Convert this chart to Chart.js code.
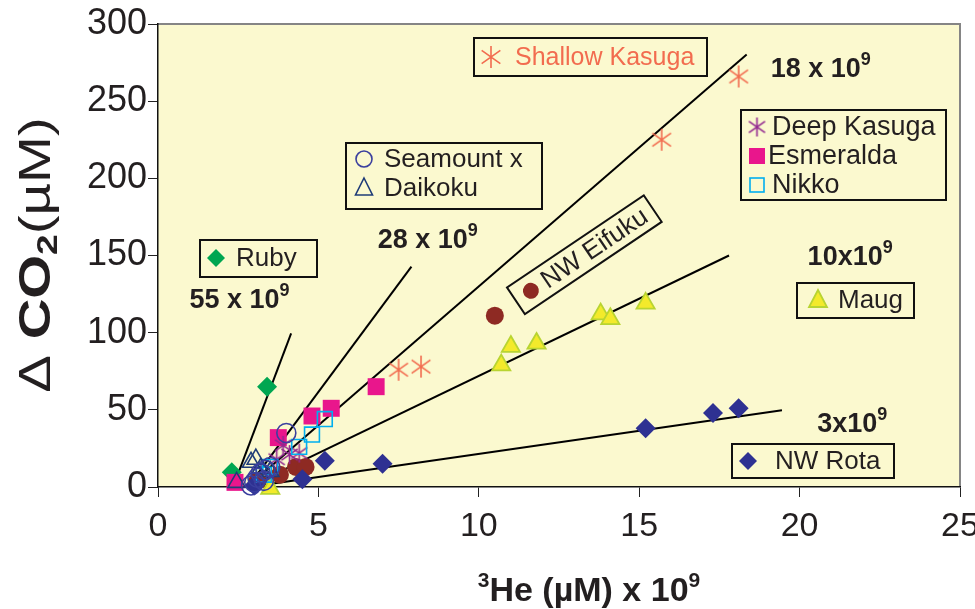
<!DOCTYPE html>
<html>
<head>
<meta charset="utf-8">
<script src="https://cdn.jsdelivr.net/npm/chart.js@4.4.1/dist/chart.umd.min.js"></script>
<style>
  html, body { margin: 0; padding: 0; background: #ffffff; }
  canvas { display: block; }
</style>
</head>
<body>
<canvas id="chart" width="975" height="609"></canvas>
<script>
// Vent fluid samples: [3He (µM x 1e9), ΔCO2 (µM)]
const shallowKasuga = [[7.5, 76], [8.2, 78], [15.7, 225], [18.1, 266]];
const deepKasuga    = [[3.7, 18], [3.9, 27], [4.1, 21], [4.4, 22]];
const esmeralda     = [[2.4, 3], [3.75, 32], [4.8, 46], [5.4, 51], [6.8, 65]];
const nikko         = [[3.3, 8], [3.5, 13], [4.4, 26], [4.8, 34], [5.2, 44]];
const seamountX     = [[2.9, 1], [3.0, 3], [3.1, 6], [3.3, 4], [3.2, 9], [3.35, 11], [3.5, 13], [4.0, 35]];
const daikoku       = [[2.45, 3], [2.9, 16], [3.05, 18], [3.2, 12], [3.5, 10]];
const ruby          = [[2.3, 9.5], [3.4, 65]];
const nwEifuku      = [[3.1, 4], [3.8, 8], [4.3, 13], [4.6, 13], [10.5, 111]];
const maug          = [[3.5, -1], [10.7, 79], [11.0, 91], [11.8, 93], [13.8, 112], [14.1, 109], [15.2, 119]];
const nwRota        = [[3.0, 1], [4.5, 5], [5.2, 17], [7.0, 15], [15.2, 38], [17.3, 48], [18.1, 51]];

// CO2/3He trend lines: slope (x 1e9), x-intercept, and x extent of each drawn line
const fitSlopes     = [55, 28, 18, 10, 3];
const fitIntercepts = [2.34, 2.8, 2.78, 2.8, 2.85];
const fitRanges     = [[2.45, 4.15], [3.0, 7.9], [3.2, 18.35], [3.2, 17.8], [3.0, 19.45]];
const fitLabels     = ['55 x 10', '28 x 10', '18 x 10', '10x10', '3x10'];

// Axis ticks
const xTicks = [0, 5, 10, 15, 20, 25];
const yTicks = [0, 50, 100, 150, 200, 250, 300];

const FONT = "'Liberation Sans', Arial, Helvetica, sans-serif";
const INK = '#231F20';
const PLOT_BG = '#FBF9CF';

const COLORS = {
  shallow: '#F26C4F', deep: '#92278F', esmeralda: '#E9168C', nikko: '#00AEEF',
  seamount: '#3A3F9E', daikoku: '#1F3C78', ruby: '#00A651', eifuku: '#8E2A23',
  maugFill: '#F3EA2B', maugEdge: '#B8D432', rota: '#2E3192'
};

function asteriskCanvas(size, color, lw) {
  const s = Math.ceil(size + lw * 2);
  const c = document.createElement('canvas');
  c.width = s; c.height = s;
  const g = c.getContext('2d');
  const r = size / 2, m = s / 2;
  g.strokeStyle = color; g.lineWidth = lw;
  g.beginPath();
  g.moveTo(m, m - r); g.lineTo(m, m + r);
  g.moveTo(m - r * 0.85, m - r * 0.6); g.lineTo(m + r * 0.85, m + r * 0.6);
  g.moveTo(m - r * 0.85, m + r * 0.6); g.lineTo(m + r * 0.85, m - r * 0.6);
  g.stroke();
  return c;
}
const starShallow = asteriskCanvas(22, COLORS.shallow, 1.6);
const starDeep = asteriskCanvas(19, COLORS.deep, 1.6);

const toXY = arr => arr.map(([x, y]) => ({ x, y }));

function pointSet(label, arr, style) {
  return Object.assign({ label, data: toXY(arr), showLine: false, clip: false }, style);
}

// Listed first = drawn on top
const pointSets = [
  pointSet('Seamount x', seamountX, { pointStyle: 'circle', pointRadius: 9.5, backgroundColor: 'rgba(0,0,0,0)', borderColor: COLORS.seamount, pointBorderWidth: 1.6 }),
  pointSet('Daikoku', daikoku, { pointStyle: 'triangle', pointRadius: 10, backgroundColor: 'rgba(0,0,0,0)', borderColor: COLORS.daikoku, pointBorderWidth: 1.6 }),
  pointSet('Nikko', nikko, { pointStyle: 'rect', pointRadius: 10.5, backgroundColor: 'rgba(0,0,0,0)', borderColor: COLORS.nikko, pointBorderWidth: 1.6 }),
  pointSet('Deep Kasuga', deepKasuga, { pointStyle: starDeep }),
  pointSet('Esmeralda', esmeralda, { pointStyle: 'rect', pointRadius: 12, backgroundColor: COLORS.esmeralda, borderColor: COLORS.esmeralda, pointBorderWidth: 0 }),
  pointSet('NW Rota', nwRota, { pointStyle: 'rectRot', pointRadius: 10, backgroundColor: COLORS.rota, borderColor: COLORS.rota, pointBorderWidth: 0 }),
  pointSet('NW Eifuku', nwEifuku, { pointStyle: 'circle', pointRadius: 9, backgroundColor: COLORS.eifuku, borderColor: COLORS.eifuku, pointBorderWidth: 0 }),
  pointSet('Ruby', ruby, { pointStyle: 'rectRot', pointRadius: 10, backgroundColor: COLORS.ruby, borderColor: COLORS.ruby, pointBorderWidth: 0 }),
  pointSet('Maug', maug, { pointStyle: 'triangle', pointRadius: 10.5, backgroundColor: COLORS.maugFill, borderColor: COLORS.maugEdge, pointBorderWidth: 1.8 }),
  pointSet('Shallow Kasuga', shallowKasuga, { pointStyle: starShallow })
];

const lineSets = fitSlopes.map((m, i) => ({
  label: fitLabels[i],
  data: fitRanges[i].map(x => ({ x, y: m * (x - fitIntercepts[i]) })),
  showLine: true, pointRadius: 0, borderColor: '#000000', borderWidth: 2,
  backgroundColor: 'rgba(0,0,0,0)', tension: 0, clip: false
}));

// Draws a run of text pieces (superscripts / subscripts) from x
function drawRuns(ctx, runs, x, y, align) {
  let total = 0;
  runs.forEach(r => { ctx.font = r.font; r.w = ctx.measureText(r.t).width; total += r.w; });
  let cx = align === 'center' ? x - total / 2 : x;
  ctx.textAlign = 'left';
  ctx.textBaseline = 'alphabetic';
  runs.forEach(r => { ctx.font = r.font; ctx.fillText(r.t, cx, y + (r.dy || 0)); cx += r.w; });
}

function drawMarker(ctx, kind, x, y) {
  ctx.save();
  ctx.beginPath();
  switch (kind) {
    case 'Shallow Kasuga': ctx.drawImage(starShallow, x - starShallow.width / 2, y - starShallow.height / 2); break;
    case 'Deep Kasuga': ctx.drawImage(starDeep, x - starDeep.width / 2, y - starDeep.height / 2); break;
    case 'Esmeralda': ctx.fillStyle = COLORS.esmeralda; ctx.fillRect(x - 8, y - 8, 16, 16); break;
    case 'Nikko': ctx.strokeStyle = COLORS.nikko; ctx.lineWidth = 1.6; ctx.strokeRect(x - 7, y - 7, 14, 14); break;
    case 'Seamount x': ctx.strokeStyle = COLORS.seamount; ctx.lineWidth = 1.6; ctx.arc(x, y, 8, 0, Math.PI * 2); ctx.stroke(); break;
    case 'Daikoku':
      ctx.strokeStyle = COLORS.daikoku; ctx.lineWidth = 1.6;
      ctx.moveTo(x, y - 10); ctx.lineTo(x + 8.5, y + 7); ctx.lineTo(x - 8.5, y + 7); ctx.closePath(); ctx.stroke(); break;
    case 'Ruby':
    case 'NW Rota':
      ctx.fillStyle = kind === 'Ruby' ? COLORS.ruby : COLORS.rota;
      ctx.moveTo(x, y - 9); ctx.lineTo(x + 9, y); ctx.lineTo(x, y + 9); ctx.lineTo(x - 9, y); ctx.closePath(); ctx.fill(); break;
    case 'Maug':
      ctx.fillStyle = COLORS.maugFill; ctx.strokeStyle = COLORS.maugEdge; ctx.lineWidth = 1.8;
      ctx.moveTo(x, y - 10); ctx.lineTo(x + 9, y + 7); ctx.lineTo(x - 9, y + 7); ctx.closePath(); ctx.fill(); ctx.stroke(); break;
    case 'NW Eifuku': ctx.fillStyle = COLORS.eifuku; ctx.arc(x, y, 8, 0, Math.PI * 2); ctx.fill(); break;
  }
  ctx.restore();
}

// Key boxes anchored at a data point (top-left), sizes in px
const keyBoxes = [
  { at: [9.85, 291], w: 233, h: 38, mx: 17, tx: 41, size: 25, rows: [[19, 'Shallow Kasuga', COLORS.shallow]] },
  { at: [5.85, 223], w: 196, h: 66, mx: 18, tx: 38, size: 26, rows: [[16, 'Seamount x', INK], [45, 'Daikoku', INK]] },
  { at: [1.3, 160], w: 117, h: 37, mx: 16, tx: 36, size: 26, rows: [[18, 'Ruby', INK]] },
  { at: [18.17, 244], w: 205, h: 90, mx: 16, tx: 31, size: 27, rows: [[17, 'Deep Kasuga', INK], [46, 'Esmeralda', INK], [75, 'Nikko', INK]] },
  { at: [19.92, 132], w: 117, h: 35, mx: 21, tx: 41, size: 26, rows: [[17, 'Maug', INK]] },
  { at: [17.9, 28], w: 162, h: 34, mx: 16, tx: 43, size: 26, rows: [[17, 'NW Rota', INK]] }
];
const eifukuKey = { at: [13.29, 150.5], w: 165, h: 32, angle: -34, size: 26 };
// Slope labels anchored at data coordinates (left, baseline)
const fitLabelAt = [[0.98, 116], [6.85, 155], [19.1, 265.5], [20.25, 143.8], [20.55, 35.6]];

const decorations = {
  id: 'decorations',
  beforeDraw(chart) {
    const { ctx, chartArea: a } = chart;
    ctx.save();
    ctx.fillStyle = PLOT_BG;
    ctx.fillRect(a.left, a.top, a.right - a.left, a.bottom - a.top);
    ctx.strokeStyle = '#858585';
    ctx.lineWidth = 2;
    ctx.beginPath();
    ctx.moveTo(a.left, a.top); ctx.lineTo(a.right, a.top); ctx.lineTo(a.right, a.bottom);
    ctx.stroke();
    ctx.restore();
  },
  afterDraw(chart) {
    const { ctx } = chart;
    const xs = chart.scales.x, ys = chart.scales.y;
    const px = v => xs.getPixelForValue(v), py = v => ys.getPixelForValue(v);
    ctx.save();

    // Key boxes
    keyBoxes.forEach(b => {
      const x0 = Math.round(px(b.at[0])), y0 = Math.round(py(b.at[1]));
      ctx.fillStyle = PLOT_BG;
      ctx.fillRect(x0, y0, b.w, b.h);
      ctx.strokeStyle = '#111';
      ctx.lineWidth = 2;
      ctx.strokeRect(x0, y0, b.w, b.h);
      b.rows.forEach(([dy, name, color]) => {
        drawMarker(ctx, name, x0 + b.mx, y0 + dy);
        ctx.fillStyle = color;
        ctx.font = b.size + 'px ' + FONT;
        ctx.textAlign = 'left';
        ctx.textBaseline = 'middle';
        const tx = name === 'Esmeralda' ? b.tx - 4 : b.tx;
        ctx.fillText(name, x0 + tx, y0 + dy + 1);
      });
    });

    // Rotated key for NW Eifuku
    ctx.save();
    ctx.translate(px(eifukuKey.at[0]), py(eifukuKey.at[1]));
    ctx.rotate(eifukuKey.angle * Math.PI / 180);
    ctx.fillStyle = PLOT_BG;
    ctx.fillRect(-eifukuKey.w / 2, -eifukuKey.h / 2, eifukuKey.w, eifukuKey.h);
    ctx.strokeStyle = '#111'; ctx.lineWidth = 2;
    ctx.strokeRect(-eifukuKey.w / 2, -eifukuKey.h / 2, eifukuKey.w, eifukuKey.h);
    drawMarker(ctx, 'NW Eifuku', -eifukuKey.w / 2 + 18, 0);
    ctx.fillStyle = INK; ctx.font = eifukuKey.size + 'px ' + FONT;
    ctx.textAlign = 'left'; ctx.textBaseline = 'middle';
    ctx.fillText('NW Eifuku', -eifukuKey.w / 2 + 33, 1);
    ctx.restore();

    // Slope labels
    ctx.fillStyle = INK;
    fitLabels.forEach((t, i) => {
      const [lx, ly] = fitLabelAt[i];
      drawRuns(ctx, [
        { t, font: 'bold 27px ' + FONT },
        { t: '9', font: 'bold 18px ' + FONT, dy: -12 }
      ], px(lx), py(ly), 'left');
    });

    // X axis title
    drawRuns(ctx, [
      { t: '3', font: 'bold 21px ' + FONT, dy: -14 },
      { t: 'He (\u00b5M) x 10', font: 'bold 34px ' + FONT },
      { t: '9', font: 'bold 21px ' + FONT, dy: -14 }
    ], 589, 601, 'center');

    // Y axis title (rotated)
    ctx.save();
    ctx.translate(50, 255);
    ctx.rotate(-Math.PI / 2);
    ctx.scale(1.28, 1);
    drawRuns(ctx, [
      { t: '\u0394 ', font: '44px ' + FONT },
      { t: 'CO', font: 'bold 44px ' + FONT },
      { t: '2', font: 'bold 29px ' + FONT, dy: 7 },
      { t: '(\u00b5M)', font: '44px ' + FONT }
    ], 0, 0, 'center');
    ctx.restore();

    ctx.restore();
  }
};

new Chart(document.getElementById('chart'), {
  type: 'scatter',
  data: { datasets: pointSets.concat(lineSets) },
  options: {
    responsive: false,
    animation: false,
    events: [],
    layout: { padding: { top: 24, right: 15, left: 0, bottom: 0 } },
    plugins: { legend: { display: false }, tooltip: { enabled: false }, title: { display: false } },
    scales: {
      x: {
        type: 'linear', min: 0, max: 25,
        afterBuildTicks: s => { s.ticks = xTicks.map(v => ({ value: v })); },
        afterFit: s => { s.height = 122; s.paddingLeft = 0; s.paddingRight = 0; },
        ticks: { color: INK, font: { family: FONT, size: 34 }, padding: 9, maxRotation: 0 },
        grid: { drawOnChartArea: false, drawTicks: true, tickLength: 10, color: '#222', lineWidth: 1 },
        border: { display: true, color: '#111', width: 1.5 }
      },
      y: {
        type: 'linear', min: 0, max: 300,
        afterBuildTicks: s => { s.ticks = yTicks.map(v => ({ value: v })); },
        afterFit: s => { s.width = 158; s.paddingTop = 0; s.paddingBottom = 0; },
        ticks: { color: INK, font: { family: FONT, size: 36 }, padding: 1 },
        grid: { drawOnChartArea: false, drawTicks: true, tickLength: 10, color: '#222', lineWidth: 1 },
        border: { display: true, color: '#111', width: 1.5 }
      }
    }
  },
  plugins: [decorations]
});
</script>
</body>
</html>
